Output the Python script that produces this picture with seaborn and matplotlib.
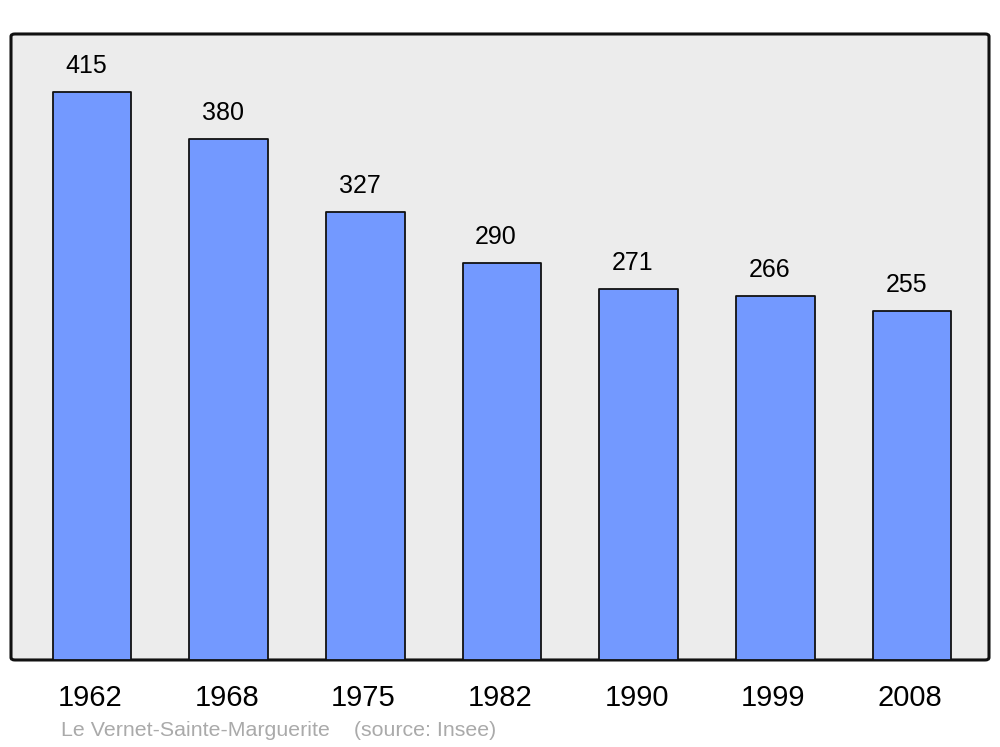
import pandas as pd
import matplotlib
matplotlib.use("Agg")
import matplotlib.pyplot as plt
import matplotlib.transforms as mtransforms
from matplotlib.patches import FancyBboxPatch
import seaborn as sns

years = ["1962", "1968", "1975", "1982", "1990", "1999", "2008"]
population = [415, 380, 327, 290, 271, 266, 255]
caption = "Le Vernet-Sainte-Marguerite    (source: Insee)"

df = pd.DataFrame({"year": years, "pop": population})

sns.set_style("white")
plt.rcParams["font.family"] = ["Liberation Sans", "DejaVu Sans"]

fig = plt.figure(figsize=(10, 7.47), dpi=100)
ax = fig.add_axes([0.011, 0.1165, 0.978, 0.838])
ax.set_facecolor("none")

# rounded grey frame
frame = FancyBboxPatch((0, 0), 1, 1, boxstyle="round,pad=0,rounding_size=0.004",
                       transform=ax.transAxes, facecolor="#ececec",
                       edgecolor="#111111", linewidth=2.2, zorder=0, clip_on=False)
ax.add_patch(frame)

sns.barplot(data=df, x="year", y="pop", color="#7399ff", saturation=1,
            width=0.575, edgecolor="#111111", linewidth=1.3, ax=ax, zorder=2)
for p in ax.patches[1:]:
    p.set_joinstyle("round")

# value labels sit a bit left of the bar centre, like the original
for i, v in enumerate(population):
    ax.annotate(str(v), (i, v), xytext=(-4.3, 18.7), textcoords="offset points",
                ha="center", va="center", fontsize=18, color="black")

ax.set_xlim(-0.593, 6.563)
ax.set_ylim(0, 457)
ax.set_yticks([])
ax.set_xlabel("")
ax.set_ylabel("")
ax.tick_params(axis="x", length=0, pad=17, labelsize=21, labelcolor="black")
shift = mtransforms.ScaledTranslation(-2 / 100, 0, fig.dpi_scale_trans)
for lbl in ax.get_xticklabels():
    lbl.set_transform(lbl.get_transform() + shift)
for s in ax.spines.values():
    s.set_visible(False)

fig.text(0.061, 0.0225, caption, fontsize=15.4, color="#aaaaaa",
         ha="left", va="center")

fig.savefig("out.png", dpi=100, facecolor="white")
